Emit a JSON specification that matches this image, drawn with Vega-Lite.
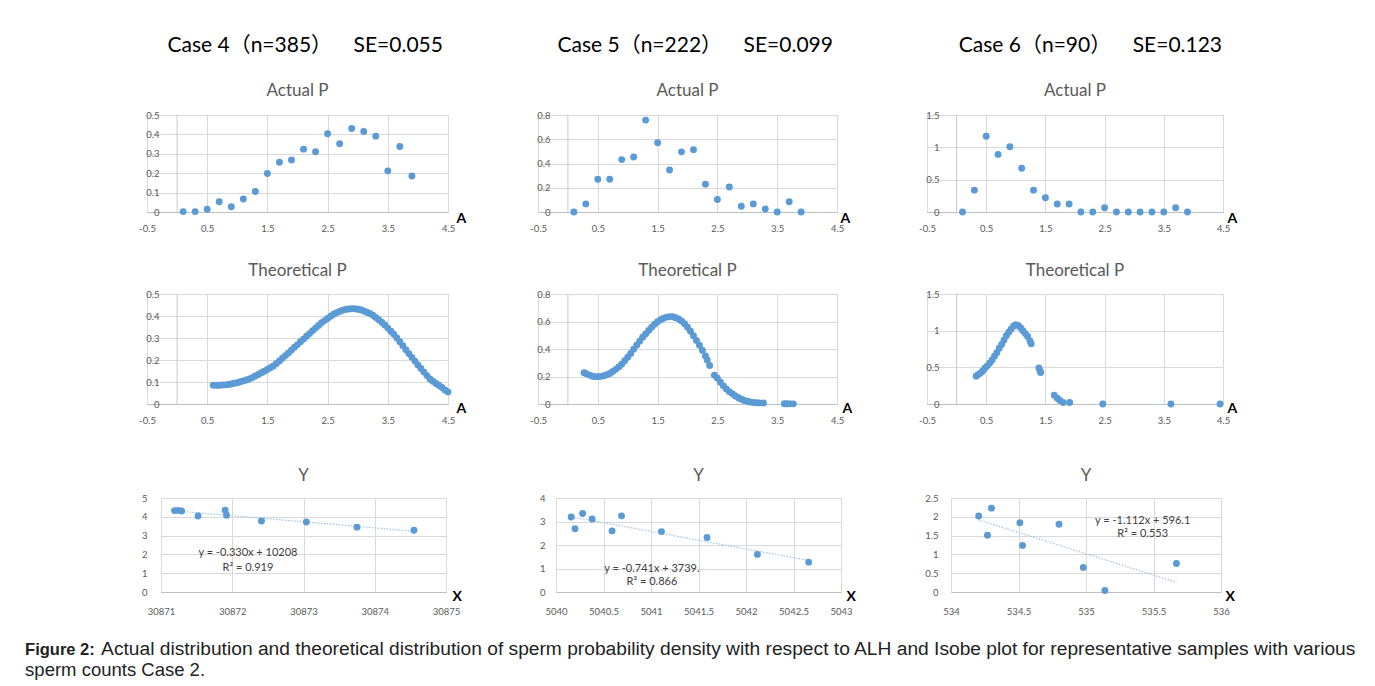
{
  "$schema": "https://vega.github.io/schema/vega-lite/v6.json",
  "background": "white",
  "padding": {"left": 25, "top": 34, "right": 5, "bottom": 2},
  "config": {
    "locale": {"number": {"decimal": ".", "thousands": ",", "grouping": [3], "currency": ["$", ""], "minus": "-"}},
    "view": {"stroke": "#d9d9d9", "strokeWidth": 1},
    "axis": {
      "ticks": false, "tickSize": 0, "gridColor": "#d9d9d9", "gridWidth": 1,
      "domainColor": "#bfbfbf", "labelFont": "Lato", "labelFontSize": 9.5, "labelColor": "#595959",
      "labelFlush": false, "labelOverlap": false,
      "titleFont": "Lato", "titleFontSize": 14, "titleFontWeight": "bold", "titleColor": "#000000",
      "titleAlign": "left", "titleBaseline": "middle", "titleAngle": 0
    },
    "point": {"filled": true, "size": 48, "color": "#5b9bd5", "opacity": 1}
  },
  "datasets": {
    "a4": [
      {"A": 0.1, "P": 0.002}, {"A": 0.3, "P": 0.002}, {"A": 0.5, "P": 0.014}, {"A": 0.7, "P": 0.053},
      {"A": 0.9, "P": 0.027}, {"A": 1.1, "P": 0.067}, {"A": 1.3, "P": 0.106}, {"A": 1.5, "P": 0.198},
      {"A": 1.7, "P": 0.256}, {"A": 1.9, "P": 0.268}, {"A": 2.1, "P": 0.324}, {"A": 2.3, "P": 0.311},
      {"A": 2.5, "P": 0.403}, {"A": 2.7, "P": 0.352}, {"A": 2.9, "P": 0.43}, {"A": 3.1, "P": 0.415},
      {"A": 3.3, "P": 0.391}, {"A": 3.5, "P": 0.212}, {"A": 3.7, "P": 0.338}, {"A": 3.9, "P": 0.186}
    ],
    "a5": [
      {"A": 0.1, "P": 0.0}, {"A": 0.3, "P": 0.067}, {"A": 0.5, "P": 0.27}, {"A": 0.7, "P": 0.27},
      {"A": 0.9, "P": 0.432}, {"A": 1.1, "P": 0.454}, {"A": 1.3, "P": 0.758}, {"A": 1.5, "P": 0.571},
      {"A": 1.7, "P": 0.346}, {"A": 1.9, "P": 0.496}, {"A": 2.1, "P": 0.513}, {"A": 2.3, "P": 0.229},
      {"A": 2.5, "P": 0.103}, {"A": 2.7, "P": 0.206}, {"A": 2.9, "P": 0.047}, {"A": 3.1, "P": 0.067},
      {"A": 3.3, "P": 0.025}, {"A": 3.5, "P": 0.0}, {"A": 3.7, "P": 0.084}, {"A": 3.9, "P": 0.0}
    ],
    "a6": [
      {"A": 0.1, "P": 0.0}, {"A": 0.3, "P": 0.338}, {"A": 0.5, "P": 1.172}, {"A": 0.7, "P": 0.891},
      {"A": 0.9, "P": 1.009}, {"A": 1.1, "P": 0.676}, {"A": 1.3, "P": 0.338}, {"A": 1.5, "P": 0.22},
      {"A": 1.7, "P": 0.123}, {"A": 1.9, "P": 0.123}, {"A": 2.1, "P": 0.0}, {"A": 2.3, "P": 0.0},
      {"A": 2.5, "P": 0.067}, {"A": 2.7, "P": 0.0}, {"A": 2.9, "P": 0.0}, {"A": 3.1, "P": 0.0},
      {"A": 3.3, "P": 0.0}, {"A": 3.5, "P": 0.0}, {"A": 3.7, "P": 0.067}, {"A": 3.9, "P": 0.0}
    ],
    "t4": [
      {"A": 0.6, "P": 0.085}, {"A": 0.65, "P": 0.085}, {"A": 0.7, "P": 0.085}, {"A": 0.75, "P": 0.086},
      {"A": 0.8, "P": 0.087}, {"A": 0.85, "P": 0.089}, {"A": 0.9, "P": 0.091}, {"A": 0.95, "P": 0.094},
      {"A": 1.0, "P": 0.097}, {"A": 1.05, "P": 0.101}, {"A": 1.1, "P": 0.105}, {"A": 1.15, "P": 0.109},
      {"A": 1.2, "P": 0.114}, {"A": 1.25, "P": 0.12}, {"A": 1.3, "P": 0.127}, {"A": 1.35, "P": 0.134},
      {"A": 1.4, "P": 0.142}, {"A": 1.45, "P": 0.149}, {"A": 1.5, "P": 0.157}, {"A": 1.55, "P": 0.165},
      {"A": 1.6, "P": 0.173}, {"A": 1.65, "P": 0.184}, {"A": 1.7, "P": 0.196}, {"A": 1.75, "P": 0.208},
      {"A": 1.8, "P": 0.22}, {"A": 1.85, "P": 0.232}, {"A": 1.9, "P": 0.245}, {"A": 1.95, "P": 0.258},
      {"A": 2.0, "P": 0.27}, {"A": 2.05, "P": 0.283}, {"A": 2.1, "P": 0.295}, {"A": 2.15, "P": 0.308},
      {"A": 2.2, "P": 0.32}, {"A": 2.25, "P": 0.333}, {"A": 2.3, "P": 0.345}, {"A": 2.35, "P": 0.357},
      {"A": 2.4, "P": 0.369}, {"A": 2.45, "P": 0.379}, {"A": 2.5, "P": 0.389}, {"A": 2.55, "P": 0.399},
      {"A": 2.6, "P": 0.408}, {"A": 2.65, "P": 0.415}, {"A": 2.7, "P": 0.421}, {"A": 2.75, "P": 0.426},
      {"A": 2.8, "P": 0.43}, {"A": 2.85, "P": 0.432}, {"A": 2.9, "P": 0.433}, {"A": 2.95, "P": 0.433},
      {"A": 3.0, "P": 0.431}, {"A": 3.05, "P": 0.428}, {"A": 3.1, "P": 0.423}, {"A": 3.15, "P": 0.417},
      {"A": 3.2, "P": 0.411}, {"A": 3.25, "P": 0.403}, {"A": 3.3, "P": 0.393}, {"A": 3.35, "P": 0.383},
      {"A": 3.4, "P": 0.372}, {"A": 3.45, "P": 0.359}, {"A": 3.5, "P": 0.345}, {"A": 3.55, "P": 0.331},
      {"A": 3.6, "P": 0.317}, {"A": 3.65, "P": 0.3}, {"A": 3.7, "P": 0.283}, {"A": 3.75, "P": 0.265},
      {"A": 3.8, "P": 0.247}, {"A": 3.85, "P": 0.229}, {"A": 3.9, "P": 0.212}, {"A": 3.95, "P": 0.195},
      {"A": 4.0, "P": 0.177}, {"A": 4.05, "P": 0.161}, {"A": 4.1, "P": 0.145}, {"A": 4.15, "P": 0.129},
      {"A": 4.2, "P": 0.114}, {"A": 4.25, "P": 0.103}, {"A": 4.3, "P": 0.093}, {"A": 4.35, "P": 0.084},
      {"A": 4.4, "P": 0.075}, {"A": 4.45, "P": 0.064}, {"A": 4.5, "P": 0.055}
    ],
    "t5": [
      {"A": 0.27, "P": 0.228}, {"A": 0.3, "P": 0.222}, {"A": 0.35, "P": 0.212}, {"A": 0.4, "P": 0.204},
      {"A": 0.45, "P": 0.199}, {"A": 0.5, "P": 0.199}, {"A": 0.55, "P": 0.201}, {"A": 0.6, "P": 0.206},
      {"A": 0.65, "P": 0.213}, {"A": 0.7, "P": 0.222}, {"A": 0.75, "P": 0.236}, {"A": 0.8, "P": 0.252},
      {"A": 0.85, "P": 0.27}, {"A": 0.9, "P": 0.29}, {"A": 0.95, "P": 0.314}, {"A": 1.0, "P": 0.34},
      {"A": 1.05, "P": 0.368}, {"A": 1.1, "P": 0.398}, {"A": 1.15, "P": 0.428}, {"A": 1.2, "P": 0.457},
      {"A": 1.25, "P": 0.485}, {"A": 1.3, "P": 0.51}, {"A": 1.35, "P": 0.535}, {"A": 1.4, "P": 0.558},
      {"A": 1.45, "P": 0.58}, {"A": 1.5, "P": 0.598}, {"A": 1.55, "P": 0.613}, {"A": 1.6, "P": 0.624},
      {"A": 1.65, "P": 0.632}, {"A": 1.7, "P": 0.635}, {"A": 1.75, "P": 0.634}, {"A": 1.8, "P": 0.628},
      {"A": 1.85, "P": 0.618}, {"A": 1.9, "P": 0.603}, {"A": 1.95, "P": 0.583}, {"A": 2.0, "P": 0.558},
      {"A": 2.05, "P": 0.53}, {"A": 2.1, "P": 0.497}, {"A": 2.15, "P": 0.462}, {"A": 2.2, "P": 0.427},
      {"A": 2.25, "P": 0.39}, {"A": 2.3, "P": 0.35}, {"A": 2.33, "P": 0.32}, {"A": 2.37, "P": 0.28},
      {"A": 2.45, "P": 0.21}, {"A": 2.5, "P": 0.188}, {"A": 2.55, "P": 0.158}, {"A": 2.6, "P": 0.132},
      {"A": 2.65, "P": 0.11}, {"A": 2.7, "P": 0.09}, {"A": 2.75, "P": 0.074}, {"A": 2.8, "P": 0.058},
      {"A": 2.85, "P": 0.045}, {"A": 2.9, "P": 0.034}, {"A": 2.95, "P": 0.026}, {"A": 3.0, "P": 0.02},
      {"A": 3.05, "P": 0.015}, {"A": 3.1, "P": 0.011}, {"A": 3.15, "P": 0.009}, {"A": 3.2, "P": 0.008},
      {"A": 3.27, "P": 0.007}, {"A": 3.62, "P": 0.002}, {"A": 3.67, "P": 0.002}, {"A": 3.72, "P": 0.001},
      {"A": 3.77, "P": 0.001}
    ],
    "t6": [
      {"A": 0.33, "P": 0.38}, {"A": 0.36, "P": 0.4}, {"A": 0.4, "P": 0.42}, {"A": 0.44, "P": 0.45},
      {"A": 0.48, "P": 0.49}, {"A": 0.52, "P": 0.52}, {"A": 0.56, "P": 0.56}, {"A": 0.6, "P": 0.6},
      {"A": 0.64, "P": 0.65}, {"A": 0.68, "P": 0.7}, {"A": 0.72, "P": 0.76}, {"A": 0.76, "P": 0.81},
      {"A": 0.8, "P": 0.87}, {"A": 0.84, "P": 0.93}, {"A": 0.88, "P": 0.98}, {"A": 0.92, "P": 1.02},
      {"A": 0.96, "P": 1.06}, {"A": 1.0, "P": 1.08}, {"A": 1.04, "P": 1.07}, {"A": 1.08, "P": 1.04},
      {"A": 1.12, "P": 1.0}, {"A": 1.16, "P": 0.96}, {"A": 1.2, "P": 0.92}, {"A": 1.24, "P": 0.86},
      {"A": 1.26, "P": 0.82}, {"A": 1.39, "P": 0.49}, {"A": 1.41, "P": 0.45}, {"A": 1.42, "P": 0.43},
      {"A": 1.65, "P": 0.12}, {"A": 1.7, "P": 0.08}, {"A": 1.74, "P": 0.05}, {"A": 1.8, "P": 0.02},
      {"A": 1.91, "P": 0.02}, {"A": 2.47, "P": 0.0}, {"A": 3.62, "P": 0.0}, {"A": 4.45, "P": 0.0}
    ],
    "y4": [
      {"X": 30871.19, "Y": 4.33}, {"X": 30871.24, "Y": 4.34}, {"X": 30871.29, "Y": 4.31},
      {"X": 30871.52, "Y": 4.04}, {"X": 30871.9, "Y": 4.35}, {"X": 30871.92, "Y": 4.08},
      {"X": 30872.41, "Y": 3.78}, {"X": 30873.04, "Y": 3.72}, {"X": 30873.75, "Y": 3.45},
      {"X": 30874.55, "Y": 3.28}
    ],
    "y5": [
      {"X": 5040.16, "Y": 3.19}, {"X": 5040.2, "Y": 2.69}, {"X": 5040.28, "Y": 3.34},
      {"X": 5040.38, "Y": 3.11}, {"X": 5040.59, "Y": 2.6}, {"X": 5040.69, "Y": 3.24},
      {"X": 5041.11, "Y": 2.57}, {"X": 5041.59, "Y": 2.32}, {"X": 5042.12, "Y": 1.6},
      {"X": 5042.66, "Y": 1.27}
    ],
    "y6": [
      {"X": 534.205, "Y": 2.02}, {"X": 534.27, "Y": 1.51}, {"X": 534.3, "Y": 2.23},
      {"X": 534.51, "Y": 1.84}, {"X": 534.53, "Y": 1.24}, {"X": 534.8, "Y": 1.8},
      {"X": 534.98, "Y": 0.65}, {"X": 535.14, "Y": 0.04}, {"X": 535.67, "Y": 0.76}
    ]
  },
  "title": {
    "text": "Figure 2:", "subtitle": "sperm counts Case 2.",
    "orient": "bottom", "anchor": "start", "dx": -76, "dy": -17, "offset": 0,
    "font": "Liberation Sans", "fontSize": 16.5, "fontWeight": "bold", "color": "#222222",
    "subtitleFont": "Liberation Sans", "subtitleFontSize": 18.5, "subtitleFontWeight": "normal",
    "subtitleColor": "#222222", "subtitlePadding": 2
  },
  "vconcat": [
    {
      "title": {
        "text": "Actual distribution and theoretical distribution of sperm probability density with respect to ALH and Isobe plot for representative samples with various",
        "orient": "bottom", "anchor": "start", "dx": -37, "offset": 24,
        "font": "Liberation Sans", "fontSize": 19.2, "fontWeight": "normal", "color": "#222222"
      },
      "spacing": 41,
      "vconcat": [
        {
          "spacing": 28,
          "vconcat": [
            {
              "bounds": "flush",
              "spacing": 90,
              "hconcat": [
                {
                  "width": 301, "height": 97,
                  "title": {"text": "\u2800Case 4（n=385）\u00a0\u00a0\u00a0\u00a0SE=0.055", "subtitle": "Actual P", "font": "Lato, Noto Sans CJK SC, DejaVu Sans", "fontSize": 21, "fontWeight": "normal", "color": "#000000", "subtitleFont": "Lato", "subtitleFontSize": 17, "subtitleColor": "#595959", "subtitlePadding": 27, "offset": 11},
                  "encoding": {"x": {"field": "A", "type": "quantitative", "scale": {"domain": [-0.5, 4.5], "nice": false, "zero": false},
                             "axis": {"values": [-0.5, 0.5, 1.5, 2.5, 3.5, 4.5], "format": ".6~g", "title": "A", "titleX": 309, "titleY": 6, "grid": true, "labelPadding": 11}}},
                  "layer": [
                    {"data": {"values": [{"A": 0}]}, "mark": {"type": "rule", "color": "#c8c8c8"}},
                    {"data": {"name": "a4"}, "mark": "point",
                     "encoding": {
                       "y": {"field": "P", "type": "quantitative", "scale": {"domain": [0, 0.5], "nice": false},
                             "axis": {"values": [0, 0.1, 0.2, 0.3, 0.4, 0.5], "format": ".6~g", "title": null, "grid": true, "domain": false, "labelPadding": -12}}
                     }}
                  ]
                },
                {
                  "width": 299, "height": 97,
                  "title": {"text": "\u2800Case 5（n=222）\u00a0\u00a0\u00a0\u00a0SE=0.099", "subtitle": "Actual P", "font": "Lato, Noto Sans CJK SC, DejaVu Sans", "fontSize": 21, "fontWeight": "normal", "color": "#000000", "subtitleFont": "Lato", "subtitleFontSize": 17, "subtitleColor": "#595959", "subtitlePadding": 27, "offset": 11},
                  "encoding": {"x": {"field": "A", "type": "quantitative", "scale": {"domain": [-0.5, 4.5], "nice": false, "zero": false},
                             "axis": {"values": [-0.5, 0.5, 1.5, 2.5, 3.5, 4.5], "format": ".6~g", "title": "A", "titleX": 302, "titleY": 6, "grid": true, "labelPadding": 11}}},
                  "layer": [
                    {"data": {"values": [{"A": 0}]}, "mark": {"type": "rule", "color": "#c8c8c8"}},
                    {"data": {"name": "a5"}, "mark": "point",
                     "encoding": {
                       "y": {"field": "P", "type": "quantitative", "scale": {"domain": [0, 0.8], "nice": false},
                             "axis": {"values": [0, 0.2, 0.4, 0.6, 0.8], "format": ".6~g", "title": null, "grid": true, "domain": false, "labelPadding": -12}}
                     }}
                  ]
                },
                {
                  "width": 296, "height": 97,
                  "title": {"text": "\u2800\u2800Case 6（n=90）\u00a0\u00a0\u00a0\u00a0SE=0.123", "subtitle": "Actual P", "font": "Lato, Noto Sans CJK SC, DejaVu Sans", "fontSize": 21, "fontWeight": "normal", "color": "#000000", "subtitleFont": "Lato", "subtitleFontSize": 17, "subtitleColor": "#595959", "subtitlePadding": 27, "offset": 11},
                  "encoding": {"x": {"field": "A", "type": "quantitative", "scale": {"domain": [-0.5, 4.5], "nice": false, "zero": false},
                             "axis": {"values": [-0.5, 0.5, 1.5, 2.5, 3.5, 4.5], "format": ".6~g", "title": "A", "titleX": 300, "titleY": 6, "grid": true, "labelPadding": 11}}},
                  "layer": [
                    {"data": {"values": [{"A": 0}]}, "mark": {"type": "rule", "color": "#c8c8c8"}},
                    {"data": {"name": "a6"}, "mark": "point",
                     "encoding": {
                       "y": {"field": "P", "type": "quantitative", "scale": {"domain": [0, 1.5], "nice": false},
                             "axis": {"values": [0, 0.5, 1, 1.5], "format": ".6~g", "title": null, "grid": true, "domain": false, "labelPadding": -12}}
                     }}
                  ]
                }
              ]
            },
            {
              "bounds": "flush",
              "spacing": 90,
              "hconcat": [
                {
                  "width": 301, "height": 110,
                  "title": {"text": "Theoretical P", "font": "Lato", "fontSize": 17, "fontWeight": "normal", "color": "#595959", "offset": 9},
                  "encoding": {"x": {"field": "A", "type": "quantitative", "scale": {"domain": [-0.5, 4.5], "nice": false, "zero": false},
                             "axis": {"values": [-0.5, 0.5, 1.5, 2.5, 3.5, 4.5], "format": ".6~g", "title": "A", "titleX": 309, "titleY": 4, "grid": true, "labelPadding": 11}}},
                  "layer": [
                    {"data": {"values": [{"A": 0}]}, "mark": {"type": "rule", "color": "#c8c8c8"}},
                    {"data": {"name": "t4"}, "mark": "point",
                     "encoding": {
                       "y": {"field": "P", "type": "quantitative", "scale": {"domain": [0, 0.5], "nice": false},
                             "axis": {"values": [0, 0.1, 0.2, 0.3, 0.4, 0.5], "format": ".6~g", "title": null, "grid": true, "domain": false, "labelPadding": -12}}
                     }}
                  ]
                },
                {
                  "width": 299, "height": 110,
                  "title": {"text": "Theoretical P", "font": "Lato", "fontSize": 17, "fontWeight": "normal", "color": "#595959", "offset": 9},
                  "encoding": {"x": {"field": "A", "type": "quantitative", "scale": {"domain": [-0.5, 4.5], "nice": false, "zero": false},
                             "axis": {"values": [-0.5, 0.5, 1.5, 2.5, 3.5, 4.5], "format": ".6~g", "title": "A", "titleX": 304, "titleY": 4, "grid": true, "labelPadding": 11}}},
                  "layer": [
                    {"data": {"values": [{"A": 0}]}, "mark": {"type": "rule", "color": "#c8c8c8"}},
                    {"data": {"name": "t5"}, "mark": "point",
                     "encoding": {
                       "y": {"field": "P", "type": "quantitative", "scale": {"domain": [0, 0.8], "nice": false},
                             "axis": {"values": [0, 0.2, 0.4, 0.6, 0.8], "format": ".6~g", "title": null, "grid": true, "domain": false, "labelPadding": -12}}
                     }}
                  ]
                },
                {
                  "width": 296, "height": 110,
                  "title": {"text": "Theoretical P", "font": "Lato", "fontSize": 17, "fontWeight": "normal", "color": "#595959", "offset": 9},
                  "encoding": {"x": {"field": "A", "type": "quantitative", "scale": {"domain": [-0.5, 4.5], "nice": false, "zero": false},
                             "axis": {"values": [-0.5, 0.5, 1.5, 2.5, 3.5, 4.5], "format": ".6~g", "title": "A", "titleX": 300, "titleY": 4, "grid": true, "labelPadding": 11}}},
                  "layer": [
                    {"data": {"values": [{"A": 0}]}, "mark": {"type": "rule", "color": "#c8c8c8"}},
                    {"data": {"name": "t6"}, "mark": "point",
                     "encoding": {
                       "y": {"field": "P", "type": "quantitative", "scale": {"domain": [0, 1.5], "nice": false},
                             "axis": {"values": [0, 0.5, 1, 1.5], "format": ".6~g", "title": null, "grid": true, "domain": false, "labelPadding": -12}}
                     }}
                  ]
                }
              ]
            }
          ]
        },
        {
          "bounds": "flush",
          "spacing": 0,
          "hconcat": [
            {"width": 14, "height": 10, "data": {"values": []}, "mark": "point", "view": {"stroke": null}},
            {
              "bounds": "flush",
              "spacing": 110,
              "hconcat": [
                {
                  "width": 285, "height": 94,
                  "title": {"text": "Y", "font": "Lato", "fontSize": 17, "fontWeight": "normal", "color": "#595959", "offset": 8},
                  "encoding": {
                    "x": {"field": "X", "type": "quantitative", "scale": {"domain": [30871, 30875], "nice": false, "zero": false},
                          "axis": {"values": [30871, 30872, 30873, 30874, 30875], "format": ".6~g", "title": "X", "titleX": 291, "titleY": 4, "grid": true, "labelPadding": 14}},
                    "y": {"field": "Y", "type": "quantitative", "scale": {"domain": [0, 5], "nice": false},
                          "axis": {"values": [0, 1, 2, 3, 4, 5], "format": ".6~g", "title": null, "grid": true, "domain": false, "labelPadding": 14}}
                  },
                  "layer": [
                    {"data": {"name": "y4"}, "transform": [{"regression": "Y", "on": "X"}],
                     "mark": {"type": "line", "color": "#9dc3e6", "strokeWidth": 1.2, "strokeDash": [1.5, 1.5]}},
                    {"data": {"name": "y4"}, "mark": "point"},
                    {"data": {"values": [{"X": 30872.22, "Y": 2.05, "label": "y = -0.330x + 10208\nR² = 0.919"}]},
                     "mark": {"type": "text", "lineBreak": "\n", "font": "Lato", "fontSize": 11, "color": "#404040", "align": "center", "baseline": "middle", "lineHeight": 15},
                     "encoding": {"text": {"field": "label"}}}
                  ]
                },
                {
                  "width": 285, "height": 94,
                  "title": {"text": "Y", "font": "Lato", "fontSize": 17, "fontWeight": "normal", "color": "#595959", "offset": 8},
                  "encoding": {
                    "x": {"field": "X", "type": "quantitative", "scale": {"domain": [5040, 5043], "nice": false, "zero": false},
                          "axis": {"values": [5040, 5040.5, 5041, 5041.5, 5042, 5042.5, 5043], "format": ".6~g", "title": "X", "titleX": 290, "titleY": 4, "grid": true, "labelPadding": 14}},
                    "y": {"field": "Y", "type": "quantitative", "scale": {"domain": [0, 4], "nice": false},
                          "axis": {"values": [0, 1, 2, 3, 4], "format": ".6~g", "title": null, "grid": true, "domain": false, "labelPadding": 11}}
                  },
                  "layer": [
                    {"data": {"name": "y5"}, "transform": [{"regression": "Y", "on": "X"}],
                     "mark": {"type": "line", "color": "#9dc3e6", "strokeWidth": 1.2, "strokeDash": [1.5, 1.5]}},
                    {"data": {"name": "y5"}, "mark": "point"},
                    {"data": {"values": [{"X": 5041.01, "Y": 0.98, "label": "y = -0.741x + 3739.\nR² = 0.866"}]},
                     "mark": {"type": "text", "lineBreak": "\n", "font": "Lato", "fontSize": 11, "color": "#404040", "align": "center", "baseline": "middle", "lineHeight": 13},
                     "encoding": {"text": {"field": "label"}}}
                  ]
                },
                {
                  "width": 270, "height": 94,
                  "title": {"text": "Y", "font": "Lato", "fontSize": 17, "fontWeight": "normal", "color": "#595959", "offset": 8},
                  "encoding": {
                    "x": {"field": "X", "type": "quantitative", "scale": {"domain": [534, 536], "nice": false, "zero": false},
                          "axis": {"values": [534, 534.5, 535, 535.5, 536], "format": ".6~g", "title": "X", "titleX": 274, "titleY": 4, "grid": true, "labelPadding": 14}},
                    "y": {"field": "Y", "type": "quantitative", "scale": {"domain": [0, 2.5], "nice": false},
                          "axis": {"values": [0, 0.5, 1, 1.5, 2, 2.5], "format": ".6~g", "title": null, "grid": true, "domain": false, "labelPadding": 13}}
                  },
                  "layer": [
                    {"data": {"name": "y6"}, "transform": [{"regression": "Y", "on": "X"}],
                     "mark": {"type": "line", "color": "#9dc3e6", "strokeWidth": 1.2, "strokeDash": [1.5, 1.5]}},
                    {"data": {"name": "y6"}, "mark": "point"},
                    {"data": {"values": [{"X": 535.42, "Y": 1.9, "label": "y = -1.112x + 596.1\nR² = 0.553"}]},
                     "mark": {"type": "text", "lineBreak": "\n", "font": "Lato", "fontSize": 11, "color": "#404040", "align": "center", "baseline": "middle", "lineHeight": 13},
                     "encoding": {"text": {"field": "label"}}}
                  ]
                }
              ]
            }
          ]
        }
      ]
    }
  ]
}
